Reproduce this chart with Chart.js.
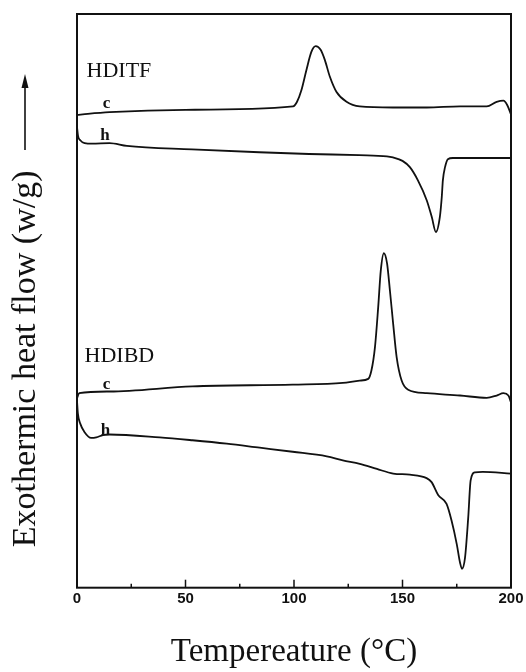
<!DOCTYPE html>
<html lang="en">
<head>
<meta charset="UTF-8">
<title>DSC curves HDITF / HDIBD</title>
<script src="https://cdn.jsdelivr.net/npm/chart.js"></script>
<style>
  body { margin: 0; background: #fff; }
  #wrap { width: 526px; height: 672px; }
</style>
</head>
<body>
<div id="wrap"><canvas id="dscChart"></canvas></div>
<script>
// heat flow in arbitrary units, curves stacked with an offset
const hditfCoolTemp = [0, 5, 15, 50, 99.6, 101.4, 103.4, 105.7, 108.0, 110.0, 112.2, 114.2, 116.5, 119.6, 124.2, 130.3, 145.6, 161.2, 176.5, 188.8, 193.4, 196.5, 198.3, 200];
const hditfCoolFlow = [82.4, 82.6, 82.9, 83.3, 83.9, 84.7, 86.7, 90.2, 93.4, 94.4, 93.8, 92.0, 89.1, 86.4, 84.7, 83.9, 83.7, 83.7, 83.9, 83.9, 84.7, 84.9, 84.1, 82.5];

const hditfHeatTemp = [0, 0.5, 1.5, 3.5, 7, 15, 23, 53, 84, 107, 130, 142.8, 145.6, 150, 153.4, 157.1, 161.2, 163.5, 165.4, 167.2, 168.1, 168.6, 169.6, 170.9, 173.2, 200];
const hditfHeatFlow = [80.3, 78.7, 78.0, 77.5, 77.4, 77.5, 77.0, 76.4, 75.9, 75.6, 75.4, 75.2, 75.0, 74.4, 73.3, 71.0, 67.5, 64.6, 62.0, 64.6, 68.1, 71.0, 73.3, 74.7, 74.9, 74.9];

const hdibdCoolTemp = [0, 1, 15, 53.2, 99.4, 122.5, 130.3, 134.2, 135.7, 137.3, 138.8, 140.0, 141.4, 142.9, 144.2, 145.7, 147.3, 149.6, 152.6, 161.2, 176.5, 188.8, 193.4, 196.5, 198.8, 200];
const hdibdCoolFlow = [33.0, 33.9, 34.2, 35.1, 35.4, 35.7, 36.1, 36.4, 37.9, 41.9, 48.9, 55.3, 58.3, 56.5, 51.8, 46.0, 40.2, 36.1, 34.5, 33.9, 33.5, 33.1, 33.5, 33.9, 33.5, 32.3];

const hdibdHeatTemp = [0, 0.4, 1.5, 3.5, 6.5, 8.9, 11.9, 15, 38.1, 53.2, 69, 84.2, 99.4, 115.1, 122.5, 130.3, 138.2, 145.7, 153.4, 161.1, 163.4, 166.5, 170.3, 172.6, 175.0, 176.5, 177.4, 178.8, 180.3, 181.4, 183.4, 187, 200];
const hdibdHeatFlow = [32.6, 30.4, 28.6, 27.1, 26.1, 26.2, 26.6, 26.7, 26.2, 25.7, 25.1, 24.4, 23.7, 22.9, 22.2, 21.6, 20.7, 19.9, 19.7, 19.1, 18.4, 16.1, 14.6, 11.7, 7.6, 4.4, 3.3, 5.2, 12.3, 18.7, 20.1, 20.2, 19.9];

// curve names and c (cooling) / h (heating) marks
const curveLabels = ['HDITF', 'c', 'h', 'HDIBD', 'c', 'h'];
const labelTemp = [4.4, 13.6, 12.9, 3.5, 13.6, 13.1];
const labelFlow = [89.0, 83.6, 78.0, 39.3, 34.7, 26.7];

const toPoints = (t, f) => t.map((v, i) => ({ x: v, y: f[i] }));

const line = (label, t, f) => ({
    label: label,
    data: toPoints(t, f),
    borderColor: '#111',
    borderWidth: 1.8,
    pointRadius: 0,
    fill: false,
    cubicInterpolationMode: 'monotone'
});

const decorations = {
    id: 'decorations',
    afterDraw(chart) {
        const { ctx, chartArea: a, scales: { x, y } } = chart;
        ctx.save();

        // box round the plot
        ctx.strokeStyle = '#111';
        ctx.lineWidth = 2;
        ctx.strokeRect(a.left, a.top, a.right - a.left, a.bottom - a.top);

        // inward tick marks on the temperature axis
        ctx.lineWidth = 1.5;
        x.ticks.forEach(t => {
            const px = x.getPixelForValue(t.value);
            const len = t.value % 50 === 0 ? 8 : 4;
            ctx.beginPath();
            ctx.moveTo(px, a.bottom);
            ctx.lineTo(px, a.bottom - len);
            ctx.stroke();
        });

        // curve labels
        ctx.fillStyle = '#111';
        ctx.textBaseline = 'alphabetic';
        curveLabels.forEach((txt, i) => {
            const big = txt.length > 1;
            ctx.font = big ? '22px "Liberation Serif"' : 'bold 17px "Liberation Serif"';
            ctx.textAlign = big ? 'left' : 'center';
            ctx.fillText(txt, x.getPixelForValue(labelTemp[i]), y.getPixelForValue(labelFlow[i]));
        });

        // y axis title, set a little below the middle
        const midY = (a.top + a.bottom) / 2 + 58;
        ctx.save();
        ctx.translate(35, midY);
        ctx.rotate(-Math.PI / 2);
        ctx.textAlign = 'center';
        ctx.font = '34px "Liberation Serif"';
        ctx.fillText('Exothermic heat flow (w/g)', 0, 0);
        ctx.restore();

        // arrow pointing up (exotherm direction)
        ctx.lineWidth = 1.6;
        ctx.beginPath();
        ctx.moveTo(25, 150);
        ctx.lineTo(25, 84);
        ctx.stroke();
        ctx.beginPath();
        ctx.moveTo(25, 74);
        ctx.lineTo(21.5, 88);
        ctx.lineTo(28.5, 88);
        ctx.closePath();
        ctx.fill();

        ctx.restore();
    }
};

new Chart(document.getElementById('dscChart'), {
    type: 'line',
    data: {
        datasets: [
            line('HDITF c', hditfCoolTemp, hditfCoolFlow),
            line('HDITF h', hditfHeatTemp, hditfHeatFlow),
            line('HDIBD c', hdibdCoolTemp, hdibdCoolFlow),
            line('HDIBD h', hdibdHeatTemp, hdibdHeatFlow)
        ]
    },
    options: {
        responsive: true,
        maintainAspectRatio: false,
        animation: false,
        layout: { padding: { left: 77, right: 15, top: 14, bottom: 0 } },
        plugins: {
            legend: { display: false },
            tooltip: { enabled: false }
        },
        scales: {
            x: {
                type: 'linear',
                min: 0,
                max: 200,
                grid: { display: false },
                border: { display: false },
                ticks: {
                    stepSize: 25,
                    autoSkip: false,
                    maxRotation: 0,
                    padding: -6,
                    color: '#111',
                    font: { family: '"Liberation Sans"', size: 15, weight: 'bold' },
                    callback: v => (v % 50 === 0 ? v : '')
                },
                title: {
                    display: true,
                    text: 'Tempereature (°C)',
                    color: '#111',
                    font: { family: '"Liberation Serif"', size: 33, lineHeight: 1.1 },
                    padding: { top: 32, bottom: 2 }
                }
            },
            y: {
                display: false,
                min: 0,
                max: 100
            }
        }
    },
    plugins: [decorations]
});
</script>
</body>
</html>
